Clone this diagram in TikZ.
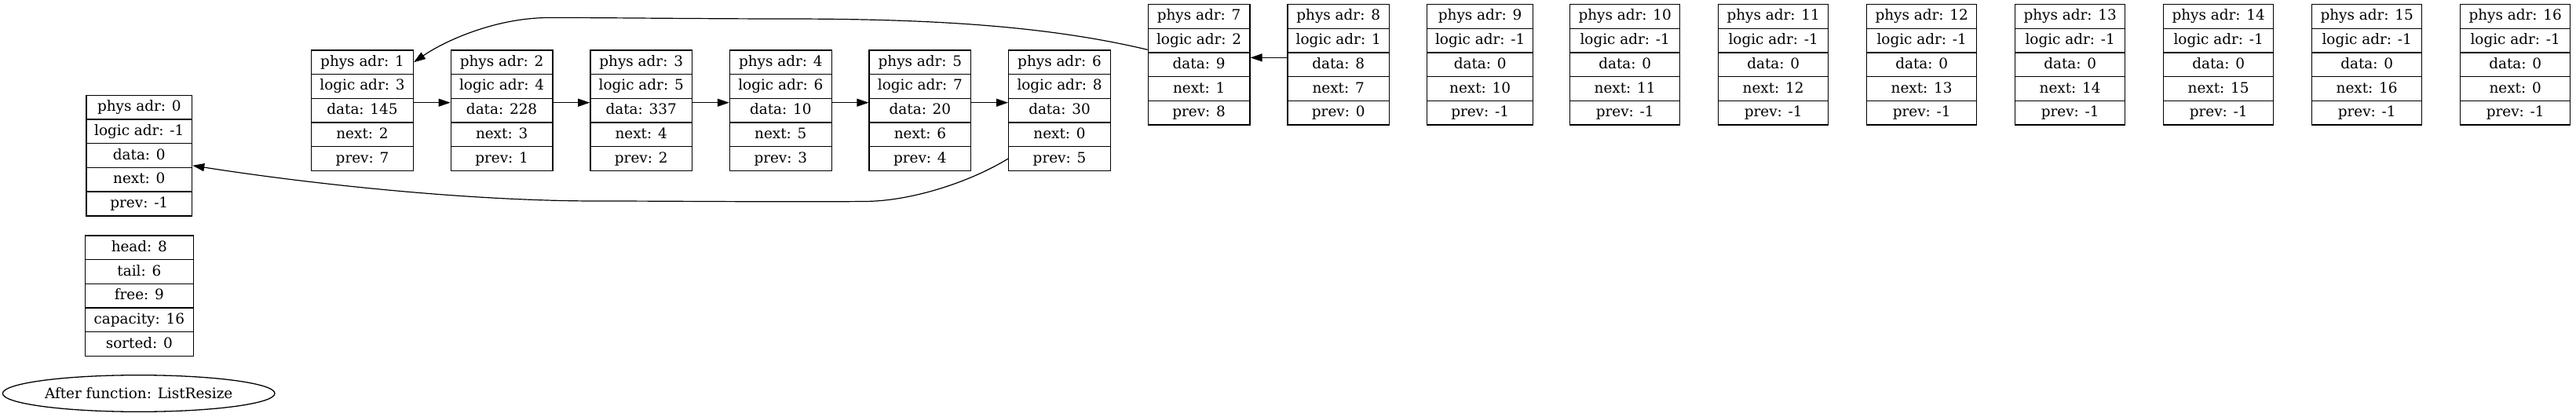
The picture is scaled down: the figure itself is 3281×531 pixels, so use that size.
\documentclass[tikz,border=0pt]{standalone}
\usepackage{fontspec}
\setmainfont{DejaVu Serif}
\usetikzlibrary{arrows.meta,shapes.geometric,calc}
\tikzset{
  field/.style={draw=black, line width=1.3bp, rectangle, inner sep=0pt,
    minimum height=30.7bp, anchor=north west, text height=14bp, text depth=4bp,
    font=\fontsize{18.4bp}{22bp}\selectfont},
  arr/.style={draw=black, line width=1.2bp, -{Triangle[length=15bp,width=10bp]}},
  lbl/.style={draw=black, line width=1.3bp, ellipse, inner sep=0pt,
    minimum width=346.6bp, minimum height=46.6bp,
    font=\fontsize{18.4bp}{22bp}\selectfont}
}
\newcommand\mkrec[5]{%
  \foreach \t [count=\i from 0] in {#5}{%
    \node[field, minimum width=#4bp] (#1-\i) at (#2,{#3+\i*30.7}) {\t};}}
\begin{document}
\begin{tikzpicture}[x=1bp,y=-1bp]
\useasboundingbox (0,0) rectangle (3281,531);
% column 0
\mkrec{n0}{109.3}{120.7}{134.7}{phys adr: 0,logic adr: -1,data: 0,next: 0,prev: -1}
\mkrec{st}{107.7}{299.3}{138}{head: 8,tail: 6,free: 9,capacity: 16,sorted: 0}
\node[lbl] (cap) at (176.7,501) {After function: ListResize};
% list nodes
\mkrec{n1}{396}{63.3}{129.7}{phys adr: 1,logic adr: 3,data: 145,next: 2,prev: 7}
\mkrec{n2}{573.6}{63.3}{129.7}{phys adr: 2,logic adr: 4,data: 228,next: 3,prev: 1}
\mkrec{n3}{751.2}{63.3}{129.7}{phys adr: 3,logic adr: 5,data: 337,next: 4,prev: 2}
\mkrec{n4}{928.8}{63.3}{129.7}{phys adr: 4,logic adr: 6,data: 10,next: 5,prev: 3}
\mkrec{n5}{1106.4}{63.3}{129.7}{phys adr: 5,logic adr: 7,data: 20,next: 6,prev: 4}
\mkrec{n6}{1284}{63.3}{129.7}{phys adr: 6,logic adr: 8,data: 30,next: 0,prev: 5}
\mkrec{n7}{1461.6}{5}{129.7}{phys adr: 7,logic adr: 2,data: 9,next: 1,prev: 8}
\mkrec{n8}{1639.2}{5}{129.7}{phys adr: 8,logic adr: 1,data: 8,next: 7,prev: 0}
\mkrec{n9}{1817}{5}{135}{phys adr: 9,logic adr: -1,data: 0,next: 10,prev: -1}
\mkrec{n10}{1999}{5}{140}{phys adr: 10,logic adr: -1,data: 0,next: 11,prev: -1}
\mkrec{n11}{2188}{5}{140}{phys adr: 11,logic adr: -1,data: 0,next: 12,prev: -1}
\mkrec{n12}{2377}{5}{140}{phys adr: 12,logic adr: -1,data: 0,next: 13,prev: -1}
\mkrec{n13}{2566}{5}{140}{phys adr: 13,logic adr: -1,data: 0,next: 14,prev: -1}
\mkrec{n14}{2755}{5}{140}{phys adr: 14,logic adr: -1,data: 0,next: 15,prev: -1}
\mkrec{n15}{2944}{5}{140}{phys adr: 15,logic adr: -1,data: 0,next: 16,prev: -1}
\mkrec{n16}{3133}{5}{140}{phys adr: 16,logic adr: -1,data: 0,next: 0,prev: -1}
% straight connectors
\draw[arr] ($(n1-2.north east)+(0,6)$) -- ($(n2-2.north west)+(0,6)$);
\draw[arr] ($(n2-2.north east)+(0,6)$) -- ($(n3-2.north west)+(0,6)$);
\draw[arr] ($(n3-2.north east)+(0,6)$) -- ($(n4-2.north west)+(0,6)$);
\draw[arr] ($(n4-2.north east)+(0,6)$) -- ($(n5-2.north west)+(0,6)$);
\draw[arr] ($(n5-2.north east)+(0,6)$) -- ($(n6-2.north west)+(0,6)$);
\draw[arr] ($(n8-2.north west)+(0,7)$) -- ($(n7-2.north east)+(0,7)$);
% curved connectors
\draw[arr] ($(n7-1.south west)+(0,-4.4)$) .. controls (1330,32) and (1180,24) .. (1000,24)
  .. controls (900,24) and (780,22.5) .. (700,22.5)
  .. controls (630,22.5) and (565,53) .. (n1-0.east);
\draw[arr] (n6-4.west) .. controls (1235,232) and (1160,256.5) .. (1100,256.5)
  .. controls (1000,257.5) and (860,256) .. (760,256)
  .. controls (600,256) and (400,235) .. ($(n0-3.north east)+(0,-2)$);
\end{tikzpicture}
\end{document}
